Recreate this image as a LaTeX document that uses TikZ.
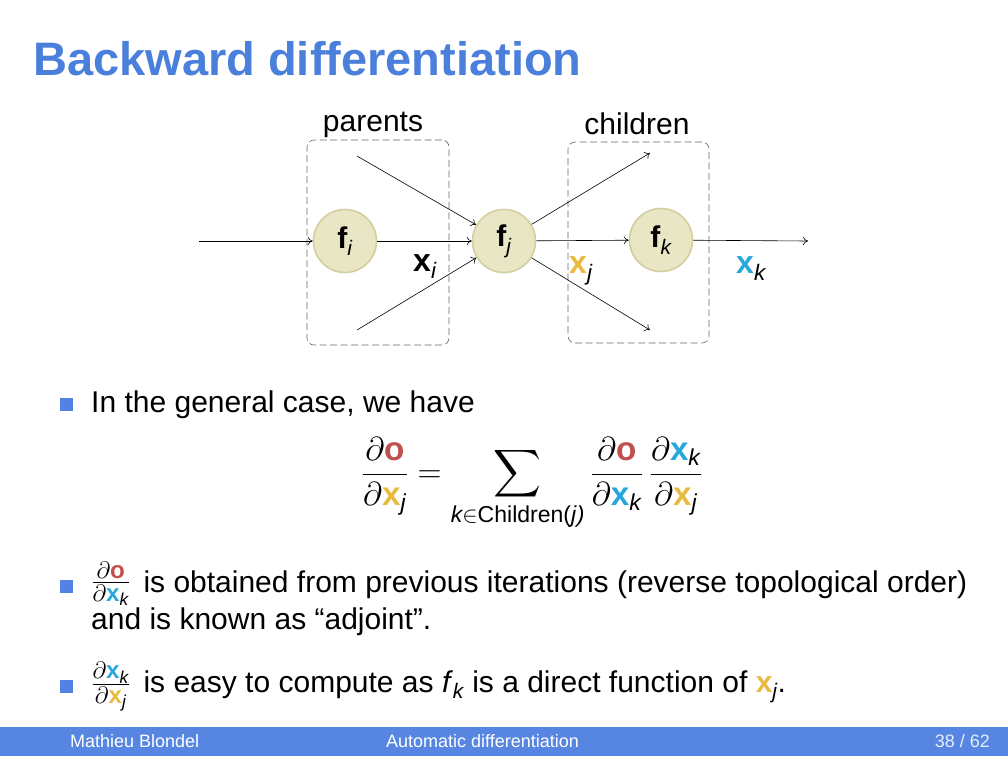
\documentclass[tikz,border=0pt]{standalone}
\usepackage{amsmath}
\usepackage{fontspec}
\setmainfont{Liberation Sans}
\usetikzlibrary{arrows.meta}
\definecolor{titleblue}{HTML}{4A7FDB}
\definecolor{footblue}{HTML}{5686E2}
\definecolor{bulletblue}{HTML}{5482E4}
\definecolor{nodefill}{HTML}{E9E6C6}
\definecolor{nodeedge}{HTML}{D3CE9E}
\definecolor{ored}{HTML}{C0504D}
\definecolor{xj}{HTML}{E9B940}
\definecolor{xk}{HTML}{27A7DB}
\newcommand\bfx{\text{\bfseries x}}
\newcommand\bfo{\text{\bfseries o}}
\newcommand\itx[1]{\text{\itshape #1}}
\newcommand\Xj{\textcolor{xj}{\bfx}_{\itx{j}}}
\newcommand\Xk{\textcolor{xk}{\bfx}_{\itx{k}}}
\newcommand\Oo{\textcolor{ored}{\bfo}}
\newcommand\bigfrac[3][0pt]{\raisebox{#1}{\scalebox{1.15}{$\frac{#2}{#3}$}}}
\tikzset{
  fnode/.style={circle, fill=nodefill, draw=nodeedge, line width=1.6pt, minimum size=63pt, inner sep=0pt, font=\fontsize{30}{34}\selectfont},
  grp/.style={draw=black!60, dash pattern=on 7pt off 3.5pt, rounded corners=7pt, line width=0.6pt},
  conn/.style={-{To[length=5pt,width=8pt]}, line width=0.6pt},
  body/.style={font=\fontsize{30}{36}\selectfont, inner sep=0pt},
  xlab/.style={font=\fontsize{32}{36}\selectfont, inner sep=0pt},
  bul/.style={fill=bulletblue, minimum size=13pt, inner sep=0pt},
}
\begin{document}
\begin{tikzpicture}[x=1pt,y=-1pt]
\useasboundingbox (0,0) rectangle (1008,756);
% title
\node[anchor=base west, inner sep=0pt, text=titleblue, font=\fontsize{47}{52}\selectfont\bfseries] (title) at (33,75) {Backward differentiation};
% groups
\node[grp, minimum width=142pt, minimum height=205pt] (pbox) at (378,242.5) {};
\node[grp, minimum width=141pt, minimum height=201pt] (cbox) at (638.5,242.5) {};
\node[body, anchor=base] (plab) at (373,131) {parents};
\node[body, anchor=base] (clab) at (637,134) {children};
% nodes
\node[fnode] (fi) at (345,241) {\textbf{f}$_{\itx{i}}$};
\node[fnode] (fj) at (504,241) {\textbf{f}$_{\itx{j}}$};
\node[fnode] (fk) at (661,240) {\textbf{f}$_{\itx{k}}$};
\coordinate (in) at (199,241);
\coordinate (out) at (808,241);
\coordinate (p1) at (357,156);
\coordinate (p2) at (357,330);
\coordinate (c1) at (650,153);
\coordinate (c2) at (650,330);
\draw[conn] (in) -- (fi);
\draw[conn] (fi) -- (fj);
\draw[conn] (fj) -- (fk);
\draw[conn] (fk) -- (out);
\draw[conn] (p1) -- (fj);
\draw[conn] (p2) -- (fj);
\draw[conn] (fj) -- (c1);
\draw[conn] (fj) -- (c2);
\node[xlab, anchor=base west] (xi) at (413,271) {$\bfx_{\itx{i}}$};
\node[xlab, anchor=base west] (xjl) at (569,273) {$\Xj$};
\node[xlab, anchor=base west] (xkl) at (736,273) {$\Xk$};
% bullets
\node[bul] (b1) at (66.5,404.5) {};
\node[body, anchor=base west] (t1) at (91,412) {In the general case, we have};
\node[inner sep=0pt, font=\fontsize{20.74}{25}\selectfont, anchor=center, scale=1.6, transform shape] (eq) at (532,484) {$\displaystyle \frac{\partial \Oo}{\partial \Xj} = \sum_{\itx{k}\in \text{Children(\itshape j\/)}} \frac{\partial \Oo}{\partial \Xk}\,\frac{\partial \Xk}{\partial \Xj}$};
\node[bul] (b2) at (66.5,586.5) {};
\node[body, anchor=base west] (t2) at (91,592) {\bigfrac[2pt]{\partial \Oo}{\partial \Xk}\, is obtained from previous iterations (reverse topological order)};
\node[body, anchor=base west] (t2b) at (91,629) {and is known as “adjoint”.};
\node[bul] (b3) at (66.5,686.5) {};
\node[body, anchor=base west] (t3) at (91,692) {\bigfrac{\partial \Xk}{\partial \Xj}\, is easy to compute as \textit{f}$_{\itx{k}}$ is a direct function of $\Xj$.};
% footer
\fill[footblue] (0,727) rectangle (1008,756);
\node[anchor=base west, inner sep=0pt, text=white, font=\fontsize{18}{20}\selectfont] (fa) at (70,747) {Mathieu Blondel};
\node[anchor=base west, inner sep=0pt, text=white, font=\fontsize{18}{20}\selectfont] (fb) at (386,747) {Automatic differentiation};
\node[anchor=base east, inner sep=0pt, text=white!85!footblue, font=\fontsize{18}{20}\selectfont] (fc) at (990,747) {38 / 62};
\end{tikzpicture}
\end{document}
